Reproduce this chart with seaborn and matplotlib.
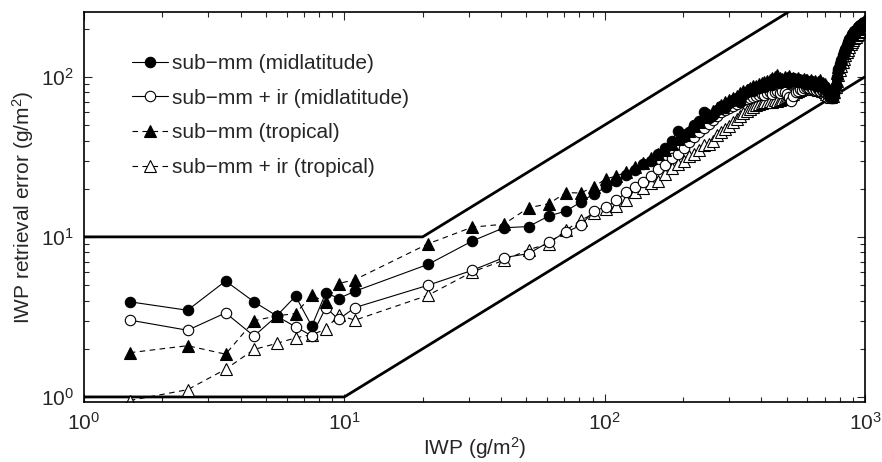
import numpy as np
import pandas as pd
import seaborn as sns
import matplotlib.pyplot as plt
from matplotlib.ticker import LogLocator, NullFormatter

# IWP bin centres (g/m2)
iwp_low = [1.5, 2.5, 3.5, 4.5, 5.5, 6.5, 7.5, 8.5, 9.5, 11, 21, 31, 41, 51, 61, 71, 81, 91]
iwp_high = list(range(101, 1000, 10))
iwp = iwp_low + iwp_high

# sub-mm (midlatitude)
mid_submm = [3.93, 3.48, 5.3, 3.93, 3.21, 4.26, 2.77, 4.49, 4.12, 4.58,
             6.74, 9.42, 11.4, 11.6, 13.5, 14.5, 16.5, 18.6,
             20.4, 22.3, 24.5, 26, 28.5, 30, 33, 36, 40, 46,
             42, 45, 50, 53, 60, 55, 58, 62, 66, 64,
             69, 72, 74, 70, 77, 80, 84, 82, 86, 85,
             88, 86, 90, 92, 89, 93, 95, 91, 94, 97,
             95, 92, 96, 98, 94, 97, 93, 96, 92, 90,
             93, 91, 94, 90, 92, 88, 91, 89, 86, 88,
             86, 84, 80, 77, 75, 74, 78, 88, 100, 112,
             120, 128, 136, 142, 150, 158, 166, 172, 178, 184,
             188, 192, 196, 200, 204, 207, 210, 213, 216, 220]

# sub-mm + ir (midlatitude)
mid_submm_ir = [3.02, 2.61, 3.35, 2.4, 3.2, 2.74, 2.41, 3.62, 3.05, 3.62,
                4.99, 6.18, 7.42, 7.86, 9.28, 10.7, 11.8, 14.6,
                15.3, 16.9, 19, 20.4, 22, 24, 26.7, 28, 31, 33,
                36, 39, 42, 45, 48, 51, 54, 57, 60, 62,
                64, 66, 68, 70, 72, 73, 74, 75, 76, 77,
                78, 77, 79, 80, 78, 80, 81, 79, 82, 80,
                78, 75, 71, 76, 80, 82, 84, 83, 85, 86,
                87, 85, 86, 84, 85, 83, 84, 82, 83, 81,
                80, 79, 77, 76, 74, 75, 80, 88, 98, 108,
                116, 124, 132, 138, 146, 154, 160, 167, 174, 180,
                184, 188, 192, 196, 200, 203, 206, 209, 212, 216]

# sub-mm (tropical)
trop_submm = [1.89, 2.09, 1.85, 2.99, 3.21, 3.32, 4.32, 3.9, 5.11, 5.41,
              9.06, 11.5, 12.0, 15.2, 16.1, 18.9, 18.8, 20.6,
              23, 24, 25.4, 27.2, 29, 31.3, 33, 35, 38, 41,
              43, 46, 49, 52, 56, 58, 61, 64, 67, 70,
              72, 74, 76, 79, 81, 83, 85, 87, 88, 90,
              91, 93, 94, 96, 98, 100, 103, 99, 97, 100,
              98, 101, 97, 99, 95, 98, 96, 94, 97, 95,
              96, 93, 95, 92, 94, 91, 93, 95, 90, 92,
              90, 87, 85, 82, 80, 82, 88, 96, 105, 115,
              124, 132, 140, 148, 155, 162, 170, 176, 182, 188,
              192, 196, 200, 204, 207, 210, 213, 215, 218, 222]

# sub-mm + ir (tropical)
trop_submm_ir = [0.95, 1.11, 1.49, 1.98, 2.16, 2.34, 2.45, 2.65, 3.24, 3.02,
                 4.32, 6.04, 7.14, 8.32, 9.06, 11.0, 12.7, 14.0,
                 15, 15.5, 16.9, 19, 20.3, 21.6, 22.5, 24.8, 27, 28.5,
                 30, 32, 33, 35, 37.5, 38, 40, 43, 45, 47,
                 49.5, 52, 54.6, 57, 59, 61, 63, 65, 67, 68,
                 69, 70, 70, 71, 70, 72, 71, 72, 73, 74,
                 75, 76, 77, 78, 80, 82, 83, 84, 85, 86,
                 86, 85, 86, 84, 85, 84, 83, 84, 82, 81,
                 80, 78, 77, 76, 75, 76, 80, 86, 94, 102,
                 110, 117, 124, 130, 136, 142, 148, 154, 160, 166,
                 170, 174, 178, 182, 186, 190, 194, 198, 202, 206]

# bounding lines
upper_x = [1, 20, 1000]
upper_y = [10, 10, 500]
lower_x = [1, 10, 1000]
lower_y = [1, 1, 100]

sns.set_style('ticks')
plt.rcParams['font.family'] = ['Liberation Sans', 'DejaVu Sans']
plt.rcParams['mathtext.fontset'] = 'custom'
plt.rcParams['mathtext.rm'] = 'Liberation Sans'
plt.rcParams['mathtext.it'] = 'Liberation Sans'

fig = plt.figure(figsize=(8.82, 4.62), dpi=100)
ax = fig.add_axes([0.0952, 0.1299, 0.8855, 0.8441])

sns.lineplot(x=upper_x, y=upper_y, ax=ax, color='black', lw=2, legend=False)
sns.lineplot(x=lower_x, y=lower_y, ax=ax, color='black', lw=2, legend=False)

dash = (0, (5, 4))
series = [
    ('sub\u2212mm (midlatitude)', mid_submm, 'o', 7.5, 'black', '-', 5),
    ('sub\u2212mm + ir (midlatitude)', mid_submm_ir, 'o', 7.5, 'white', '-', 3),
    ('sub\u2212mm (tropical)', trop_submm, '^', 8.5, 'black', dash, 4),
    ('sub\u2212mm + ir (tropical)', trop_submm_ir, '^', 8.5, 'white', dash, 2),
]
for label, vals, mk, ms, fc, ls, z in series:
    df = pd.DataFrame({'iwp': iwp, 'err': vals})
    sns.lineplot(data=df, x='iwp', y='err', ax=ax, color='black', lw=0.8,
                 linestyle=ls, marker=mk, markersize=ms, markerfacecolor=fc,
                 markeredgecolor='black', markeredgewidth=0.8,
                 estimator=None, sort=False, label=label, zorder=z)

ax.set_xscale('log')
ax.set_yscale('log')
ax.set_xlim(1, 1000)
ax.set_ylim(0.93, 254)

ax.xaxis.set_minor_locator(LogLocator(base=10, subs=np.arange(2, 10)))
ax.yaxis.set_minor_locator(LogLocator(base=10, subs=np.arange(2, 10)))
ax.xaxis.set_minor_formatter(NullFormatter())
ax.yaxis.set_minor_formatter(NullFormatter())
ax.tick_params(which='both', direction='in', top=True, right=True, labelsize=15, width=0.8)
ax.tick_params(which='major', length=6, pad=7)
ax.tick_params(which='minor', length=3.5)
for sp in ax.spines.values():
    sp.set_linewidth(1.2)
    sp.set_color('black')
    sp.set_zorder(10)

ax.set_xlabel('IWP (g/m$^2$)', fontsize=15, labelpad=1)
ax.set_ylabel('IWP retrieval error (g/m$^2$)', fontsize=15, labelpad=4)

ax.legend(loc='upper left', bbox_to_anchor=(0.037, 0.94), frameon=False,
          fontsize=15, handlelength=1.75, handletextpad=0.2, labelspacing=0.75)

fig.savefig('out.png', dpi=100)
